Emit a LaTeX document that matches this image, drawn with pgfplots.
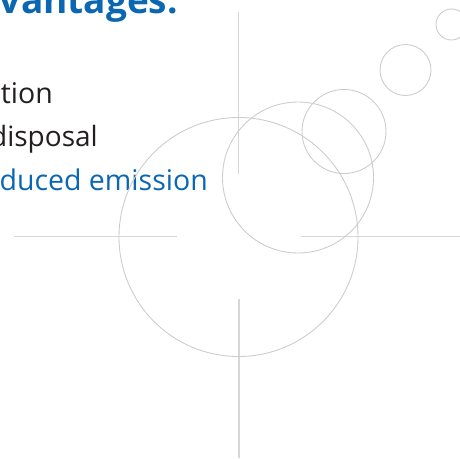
\documentclass[border=0pt]{standalone}
\usepackage{pgfplots}
\pgfplotsset{compat=1.18}
\usepackage{fontspec}
\setmainfont{Open Sans}
\definecolor{slideblue}{RGB}{11,103,178}
\definecolor{slidetext}{RGB}{35,31,32}
\definecolor{ringgray}{RGB}{205,205,205}
\definecolor{linegray}{RGB}{215,215,215}
\begin{document}
\begin{tikzpicture}
\useasboundingbox (0,0) rectangle (460pt,458pt);
\clip (0,0) rectangle (460pt,458pt);
\begin{axis}[
  at={(0,0)}, anchor=south west,
  scale only axis, width=460pt, height=458pt,
  xmin=0, xmax=460, ymin=0, ymax=458,
  y dir=reverse,
  hide axis,
  clip=false,
]
% rings: centre x, centre y, radius (px)
\addplot[scatter, only marks, mark=o,
  scatter/use mapped color={draw=ringgray},
  mark options={line width=0.9pt},
  visualization depends on={\thisrow{r} \as \ringr},
  scatter/@pre marker code/.append style={/tikz/mark size=\ringr}]
  table {
x y r
238.5 237 119.5
298 177.5 75.5
344 131.5 42
405.5 70 25.5
451.5 24.5 15.5
};
% cross hairs
\addplot[linegray, line width=1.3pt] coordinates {(238.7,12) (238.7,174)};
\addplot[linegray, line width=1.3pt] coordinates {(239,299) (239,458)};
\addplot[linegray, line width=1.3pt] coordinates {(14,236.7) (177,236.7)};
\addplot[linegray, line width=1.3pt] coordinates {(301,236.7) (460,236.7)};
% text
\node[anchor=base east, inner sep=0pt, text=slideblue, font=\fontsize{37}{42}\selectfont\bfseries] at (axis cs:178,13) {Advantages:};
\node[anchor=base east, inner sep=0pt, text=slidetext, font=\fontsize{28.5}{34}\selectfont] at (axis cs:53,103.3) {stion};
\node[anchor=base east, inner sep=0pt, text=slidetext, font=\fontsize{28}{34}\selectfont] at (axis cs:98,146.7) {disposal};
\node[anchor=base east, inner sep=0pt, text=slideblue, font=\fontsize{28.5}{34}\selectfont] at (axis cs:208,190) {reduced emission};
\end{axis}
\end{tikzpicture}
\end{document}
